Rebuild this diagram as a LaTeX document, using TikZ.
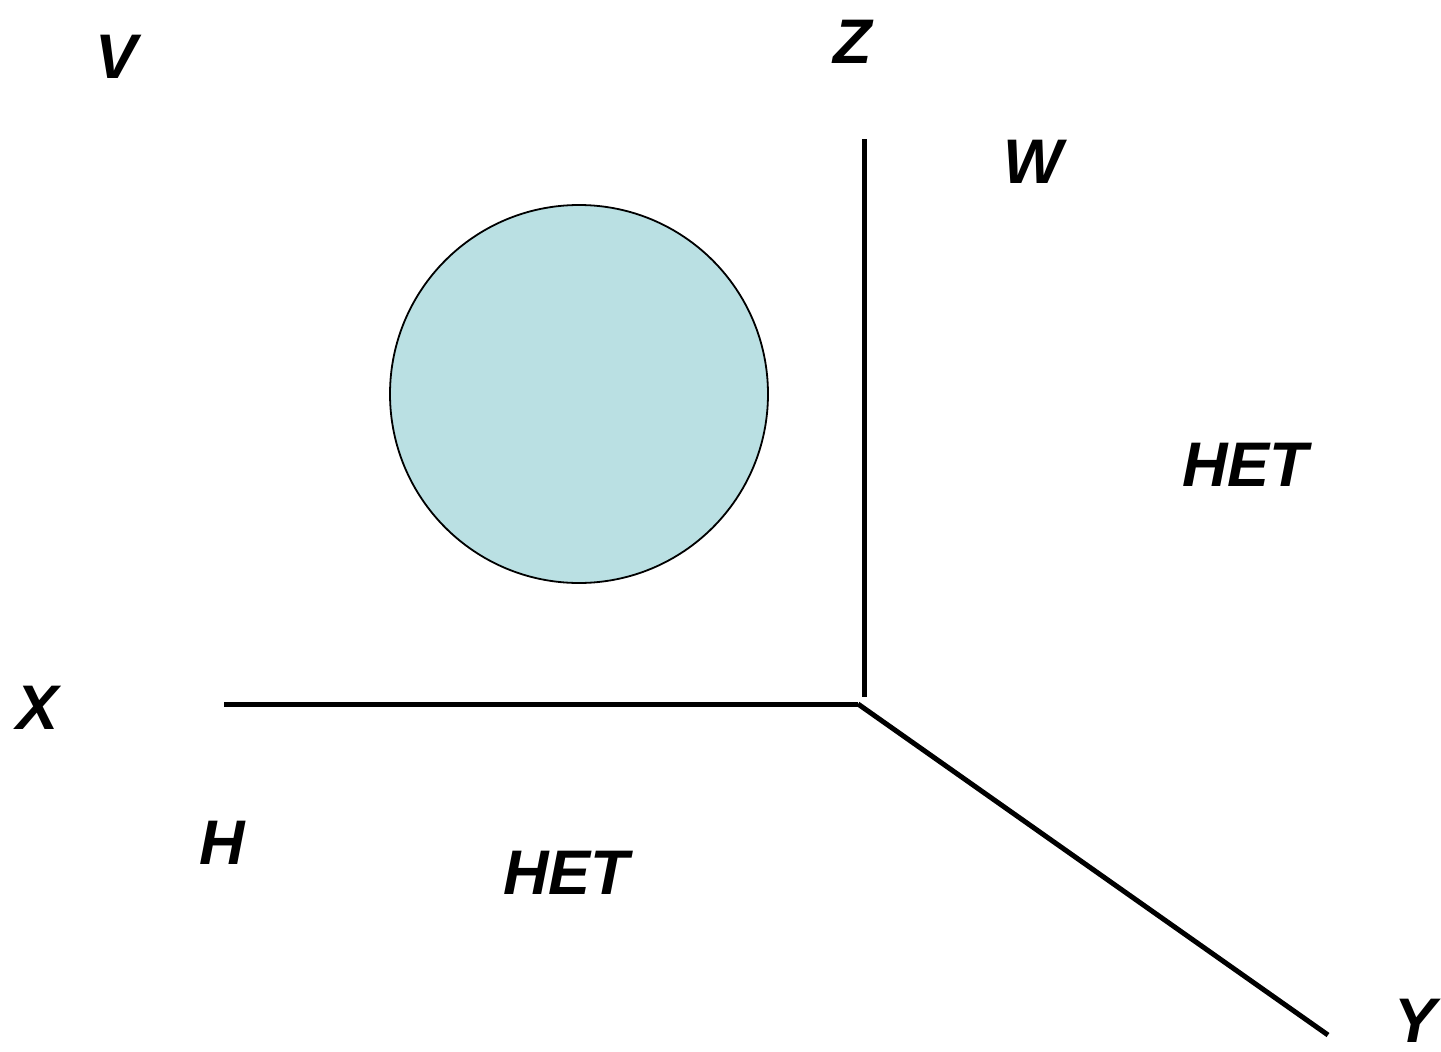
\documentclass[tikz,border=0pt]{standalone}
\usepackage{fontspec}
\setmainfont{Liberation Sans}
\definecolor{ballfill}{HTML}{BAE0E3}
\begin{document}
\begin{tikzpicture}[x=1pt,y=-1pt,
  lbl/.style={font=\fontsize{63}{63}\selectfont\bfseries\itshape, inner sep=0pt},
  axis/.style={line width=5pt}]
\useasboundingbox (0,0) rectangle (1441,1052);
\node[lbl] (v) at (117,57) {V};
\node[lbl] (z) at (853,42) {Z};
\node[lbl] (w) at (1033,162) {W};
\node[lbl] (het1) at (1245,465) {HET};
\node[lbl] (x) at (38,708) {X};
\node[lbl] (h) at (222,843) {H};
\node[lbl] (het2) at (566,873) {HET};
\node[lbl] (y) at (1415,1021) {Y};
\node[circle, draw=black, line width=1.8pt, fill=ballfill, minimum size=378pt, inner sep=0pt] (ball) at (579,394) {};
\coordinate (o) at (858,704);
\coordinate (ztop) at (864,139);
\coordinate (zbot) at (864,697);
\coordinate (xend) at (224,704);
\coordinate (yend) at (1328,1035);
\draw[axis] (ztop) -- (zbot);
\draw[axis] (xend) -- (o);
\draw[axis] (o) -- (yend);
\end{tikzpicture}
\end{document}
